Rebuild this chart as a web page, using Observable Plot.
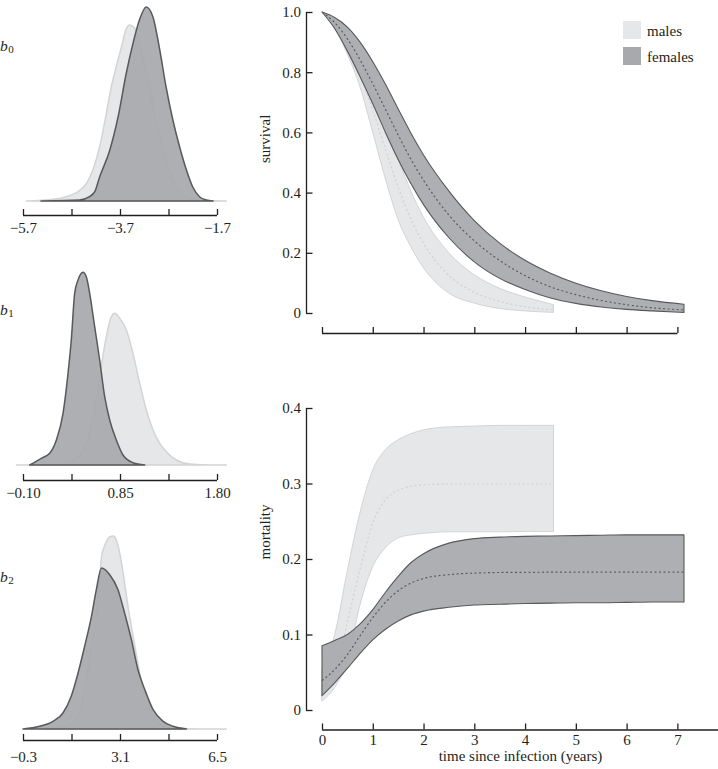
<!DOCTYPE html>
<html>
<head>
<meta charset="utf-8">
<script src="https://cdn.jsdelivr.net/npm/d3@7"></script>
<script src="https://cdn.jsdelivr.net/npm/@observablehq/plot@0.6"></script>
<style>
  html, body { margin: 0; padding: 0; background: #fff; }
  #root { position: relative; width: 718px; height: 769px; overflow: hidden;
          font-family: "Liberation Serif", "DejaVu Serif", serif; color: #231f20; }
  .panel { position: absolute; }
  .panel svg { overflow: visible; display: block; }
  .blabel { position: absolute; left: 0; font-style: italic; font-size: 15.5px; line-height: 16px; }
  .blabel span { font-style: normal; font-size: 11px; position: relative; top: 2px; margin-left: 0.5px; }
  .sw { position: absolute; width: 18px; height: 18px; }
  .lg { position: absolute; font-size: 15px; line-height: 16px; white-space: nowrap; }
</style>
</head>
<body>
<div id="root"></div>
<script>
// ---------------- DATA ----------------
// b0 posterior densities (relative height)
const b0Ticks = [-5.7, -4.7, -3.7, -2.7, -1.7];
const b0TickLabels = ["−5.7", "", "−3.7", "", "−1.7"];
const b0FemalesX = [-5.33, -4.53, -4.33, -4.22, -4.12, -3.91, -3.74, -3.57, -3.43, -3.30, -3.16, -3.02, -2.88, -2.75, -2.61, -2.47, -2.33, -2.20, -2.06, -1.92, -1.78];
const b0FemalesD = [0, 1, 4.3, 9.3, 24, 51, 84, 128, 158, 181, 194, 184, 151, 114, 81, 54, 31, 14, 4.3, 1, 0];
const b0MalesX = [-5.63, -5.08, -4.81, -4.60, -4.39, -4.26, -4.12, -3.98, -3.88, -3.78, -3.67, -3.58, -3.50, -3.40, -3.30, -3.16, -3.05, -2.95, -2.81, -2.68, -2.54, -2.33, -2.06, -1.78, -1.51];
const b0MalesD = [0, 1.7, 4.3, 8.3, 17.7, 31, 54, 88, 114, 134, 154, 171, 176, 173, 158, 131, 104, 78, 51, 31, 14, 4.3, 1, 0.2, 0];

// b1
const b1Ticks = [-0.10, 0.375, 0.85, 1.325, 1.80];
const b1TickLabels = ["−0.10", "", "0.85", "", "1.80"];
const b1FemalesX = [-0.035, 0.080, 0.161, 0.227, 0.292, 0.341, 0.373, 0.406, 0.439, 0.488, 0.520, 0.553, 0.602, 0.651, 0.700, 0.749, 0.814, 0.879, 0.977, 1.092];
const b1FemalesD = [0, 6.7, 11.7, 25, 51.7, 91.7, 125, 171.7, 185, 192.7, 188.3, 171.7, 138.3, 105, 68.3, 45, 25, 10, 2.3, 0];
const b1MalesX = [-0.165, 0.227, 0.324, 0.422, 0.520, 0.586, 0.635, 0.667, 0.716, 0.765, 0.798, 0.847, 0.912, 0.977, 1.043, 1.108, 1.173, 1.239, 1.304, 1.402, 1.532, 1.761, 1.891];
const b1MalesD = [0, 0, 1.7, 6.7, 21.7, 48.3, 75, 98.3, 128.3, 148.3, 151.7, 146.7, 135, 111.7, 81.7, 55, 35, 21.7, 13.3, 5, 1, 0, 0];

// b2
const b2Ticks = [-0.3, 1.4, 3.1, 4.8, 6.5];
const b2TickLabels = ["−0.3", "", "3.1", "", "6.5"];
const b2FemalesX = [-0.30, 0.28, 0.75, 1.10, 1.39, 1.63, 1.86, 2.10, 2.27, 2.45, 2.74, 3.03, 3.26, 3.50, 3.73, 3.97, 4.26, 4.61, 4.96, 5.43];
const b2FemalesD = [0, 2.7, 7.7, 16, 32.7, 56, 82.7, 112.7, 139.3, 161, 154.3, 139.3, 116, 89.3, 59.3, 39.3, 19.3, 7.7, 2.7, 0];
const b2MalesX = [0.40, 0.99, 1.34, 1.57, 1.75, 1.92, 2.10, 2.27, 2.39, 2.45, 2.56, 2.74, 2.86, 2.97, 3.09, 3.21, 3.38, 3.56, 3.79, 4.02, 4.26, 4.61, 5.08, 5.89, 6.83];
const b2MalesD = [0, 1, 4.3, 11, 22.7, 49.3, 82.7, 116, 150, 172, 183, 192, 193, 189, 176, 156, 122.7, 92.7, 56, 29.3, 12.7, 3.3, 0.7, 0, 0];

// survival / mortality vs time since infection (years)
const timeDomain = [0, 7.8];
const timeTicks = [0, 1, 2, 3, 4, 5, 6, 7];
const survTicks = [0, 0.2, 0.4, 0.6, 0.8, 1.0];
const mortTicks = [0, 0.1, 0.2, 0.3, 0.4];

const tFemales = [0, 0.25, 0.5, 0.75, 1, 1.25, 1.5, 1.75, 2, 2.5, 3, 3.5, 4, 4.5, 5, 5.5, 6, 6.5, 7.13];
const survFemalesUp  = [1.0, 0.982, 0.95, 0.90, 0.835, 0.76, 0.678, 0.598, 0.525, 0.405, 0.307, 0.232, 0.175, 0.132, 0.099, 0.074, 0.055, 0.041, 0.029];
const survFemalesMed = [1.0, 0.965, 0.91, 0.84, 0.76, 0.675, 0.59, 0.51, 0.44, 0.325, 0.24, 0.175, 0.125, 0.088, 0.062, 0.043, 0.029, 0.019, 0.012];
const survFemalesLow = [1.0, 0.945, 0.87, 0.785, 0.695, 0.60, 0.51, 0.43, 0.36, 0.25, 0.17, 0.115, 0.078, 0.05, 0.032, 0.02, 0.012, 0.007, 0.002];
const mortFemalesUp  = [0.085, 0.092, 0.100, 0.114, 0.133, 0.156, 0.177, 0.195, 0.207, 0.221, 0.227, 0.229, 0.230, 0.2305, 0.231, 0.2315, 0.232, 0.232, 0.232];
const mortFemalesMed = [0.040, 0.055, 0.075, 0.100, 0.124, 0.144, 0.159, 0.169, 0.175, 0.180, 0.182, 0.1828, 0.183, 0.1832, 0.1833, 0.1834, 0.1834, 0.1834, 0.1834];
const mortFemalesLow = [0.019, 0.036, 0.055, 0.075, 0.093, 0.107, 0.118, 0.126, 0.131, 0.136, 0.139, 0.140, 0.141, 0.1415, 0.142, 0.142, 0.1425, 0.143, 0.143];

const tMales = [0, 0.25, 0.5, 0.75, 1, 1.25, 1.5, 1.75, 2, 2.5, 3, 3.5, 4, 4.56];
const survMalesUp  = [1.0, 0.975, 0.92, 0.84, 0.74, 0.63, 0.51, 0.405, 0.318, 0.20, 0.127, 0.082, 0.053, 0.028];
const survMalesMed = [1.0, 0.96, 0.89, 0.79, 0.67, 0.54, 0.415, 0.31, 0.23, 0.125, 0.07, 0.04, 0.022, 0.012];
const survMalesLow = [1.0, 0.945, 0.86, 0.75, 0.60, 0.445, 0.31, 0.22, 0.15, 0.066, 0.033, 0.015, 0.007, 0.002];
const mortMalesUp  = [0.055, 0.10, 0.185, 0.262, 0.318, 0.345, 0.358, 0.366, 0.371, 0.375, 0.376, 0.377, 0.377, 0.377];
const mortMalesMed = [0.03, 0.055, 0.12, 0.19, 0.25, 0.28, 0.292, 0.297, 0.299, 0.30, 0.30, 0.30, 0.30, 0.30];
const mortMalesLow = [0.012, 0.03, 0.065, 0.14, 0.19, 0.215, 0.228, 0.232, 0.234, 0.236, 0.236, 0.236, 0.2365, 0.2365];

const legendLabels = ["males", "females"];

// ---------------- STYLE ----------------
const LIGHT = "#e6e7e8", LIGHT_STROKE = "#d3d4d6";
const DARK = "#a7a9ac", DARK_STROKE = "#58595b";
const INK = "#231f20";
const FONT = '"Liberation Serif", "DejaVu Serif", serif';
const FS = 15;
const baseStyle = { fontFamily: FONT, fontSize: FS + "px", color: INK, background: "transparent", overflow: "visible" };

const root = document.getElementById("root");
function place(el, left, top) {
  const w = document.createElement("div");
  w.className = "panel";
  w.style.left = left + "px";
  w.style.top = top + "px";
  w.appendChild(el);
  root.appendChild(w);
}

function densityPlot({ticks, tickLabels, femalesX, femalesD, malesX, malesD, marginTop, axisOffset, labelPad}) {
  const females = femalesX.map((x, i) => ({x, d: femalesD[i]}));
  const males = malesX.map((x, i) => ({x, d: malesD[i]}));
  const lo = d3.min(ticks), hi = d3.max(ticks);
  const labelMap = new Map(ticks.map((t, i) => [t, tickLabels[i]]));
  return Plot.plot({
    width: 240, height: marginTop + 200 + 40,
    marginLeft: 23, marginRight: 23, marginTop, marginBottom: 40,
    style: baseStyle,
    x: {domain: [lo, hi]},
    y: {domain: [0, 200], axis: null},
    marks: [
      Plot.areaY(males, {x: "x", y: "d", fill: LIGHT, stroke: LIGHT_STROKE, strokeWidth: 1.5, curve: "monotone-x"}),
      Plot.areaY(females, {x: "x", y: "d", fill: DARK, fillOpacity: 0.93, stroke: DARK_STROKE, strokeWidth: 1.5, curve: "monotone-x"}),
      Plot.ruleY([0], {x1: lo, x2: hi, stroke: INK, strokeWidth: 1.3, dy: axisOffset}),
      Plot.axisX(ticks, {tickSize: 6, dy: axisOffset - 6, tickPadding: labelPad, strokeWidth: 1.3,
        tickFormat: d => labelMap.get(d), label: null, fontSize: FS})
    ]
  });
}

place(densityPlot({ticks: b0Ticks, tickLabels: b0TickLabels, femalesX: b0FemalesX, femalesD: b0FemalesD,
  malesX: b0MalesX, malesD: b0MalesD, marginTop: 1, axisOffset: 14, labelPad: 7}), 0, 0);
place(densityPlot({ticks: b1Ticks, tickLabels: b1TickLabels, femalesX: b1FemalesX, femalesD: b1FemalesD,
  malesX: b1MalesX, malesD: b1MalesD, marginTop: 25, axisOffset: 15, labelPad: 6.5}), 0, 240);
place(densityPlot({ticks: b2Ticks, tickLabels: b2TickLabels, femalesX: b2FemalesX, femalesD: b2FemalesD,
  malesX: b2MalesX, malesD: b2MalesD, marginTop: 29, axisOffset: 11, labelPad: 11}), 0, 500);

// b labels
[["0", 38], ["1", 302], ["2", 569]].forEach(([s, top]) => {
  const d = document.createElement("div");
  d.className = "blabel";
  d.style.top = top + "px";
  d.innerHTML = `b<span>${s}</span>`;
  root.appendChild(d);
});

// ---------------- RIGHT PANELS ----------------
const females = tFemales.map((t, i) => ({t, sUp: survFemalesUp[i], sMed: survFemalesMed[i], sLow: survFemalesLow[i],
  mUp: mortFemalesUp[i], mMed: mortFemalesMed[i], mLow: mortFemalesLow[i]}));
const males = tMales.map((t, i) => ({t, sUp: survMalesUp[i], sMed: survMalesMed[i], sLow: survMalesLow[i],
  mUp: mortMalesUp[i], mMed: mortMalesMed[i], mLow: mortMalesLow[i]}));

function bandMarks(up, med, low) {
  return [
    Plot.areaY(males, {x: "t", y1: low, y2: up, fill: LIGHT, stroke: LIGHT_STROKE, strokeWidth: 1, curve: "monotone-x"}),
    Plot.lineY(males, {x: "t", y: med, stroke: "#cfd0d2", strokeWidth: 1.2, strokeDasharray: "1,3.5", strokeLinecap: "round", curve: "monotone-x"}),
    Plot.areaY(females, {x: "t", y1: low, y2: up, fill: DARK, fillOpacity: 0.93, stroke: DARK_STROKE, strokeWidth: 1.1, curve: "monotone-x"}),
    Plot.lineY(females, {x: "t", y: med, stroke: DARK_STROKE, strokeWidth: 1.2, strokeDasharray: "1,3.5", strokeLinecap: "round", curve: "monotone-x"})
  ];
}

const fmt1 = d => d === 0 ? "0" : d.toFixed(1);

const survPlot = Plot.plot({
  width: 468, height: 350,
  marginLeft: 72, marginRight: 0, marginTop: 12, marginBottom: 37,
  style: baseStyle,
  x: {domain: timeDomain},
  y: {domain: [d3.min(survTicks), d3.max(survTicks)]},
  marks: [
    ...bandMarks("sUp", "sMed", "sLow"),
    Plot.ruleX([timeDomain[0]], {y1: d3.min(survTicks), y2: d3.max(survTicks), dx: -16, stroke: INK, strokeWidth: 1.3}),
    Plot.axisY(survTicks, {tickSize: 6.5, dx: -9.5, tickPadding: 5.5, strokeWidth: 1.3, tickFormat: fmt1, label: null, fontSize: FS}),
    Plot.ruleY([0], {x1: d3.min(timeTicks), x2: d3.max(timeTicks), dy: 20, stroke: INK, strokeWidth: 1.3}),
    Plot.axisX(timeTicks, {tickSize: 6, dy: 14, strokeWidth: 1.3, tickFormat: () => "", label: null}),
    Plot.text(["survival"], {frameAnchor: "left", dx: -57, rotate: -90, fill: INK, fontSize: FS})
  ]
});
place(survPlot, 250, 0);

const mortPlot = Plot.plot({
  width: 468, height: 419,
  marginLeft: 72, marginRight: 0, marginTop: 58, marginBottom: 59,
  style: baseStyle,
  x: {domain: timeDomain},
  y: {domain: [d3.min(mortTicks), d3.max(mortTicks)]},
  marks: [
    ...bandMarks("mUp", "mMed", "mLow"),
    Plot.ruleX([timeDomain[0]], {y1: d3.min(mortTicks), y2: d3.max(mortTicks), dx: -16, stroke: INK, strokeWidth: 1.3}),
    Plot.axisY(mortTicks, {tickSize: 6.5, dx: -9.5, tickPadding: 5.5, strokeWidth: 1.3, tickFormat: fmt1, label: null, fontSize: FS}),
    Plot.ruleY([0], {x1: timeDomain[0], x2: timeDomain[1], dy: 19.5, stroke: INK, strokeWidth: 1.3}),
    Plot.axisX(timeTicks, {tickSize: 6, dy: 13.5, tickPadding: 4.5, strokeWidth: 1.3, tickFormat: d => String(d), label: null, fontSize: FS}),
    Plot.text(["mortality"], {frameAnchor: "left", dx: -57, rotate: -90, fill: INK, fontSize: FS}),
    Plot.text(["time since infection (years)"], {frameAnchor: "bottom", dy: 50, fill: INK, fontSize: FS})
  ]
});
place(mortPlot, 250, 350);

// ---------------- LEGEND ----------------
[[LIGHT, 21, 23.2], [DARK, 47, 49.2]].forEach(([c, top, ttop], i) => {
  const s = document.createElement("div");
  s.className = "sw";
  s.style.left = "623px"; s.style.top = top + "px"; s.style.background = c;
  root.appendChild(s);
  const t = document.createElement("div");
  t.className = "lg";
  t.style.left = "647px"; t.style.top = ttop + "px";
  t.textContent = legendLabels[i];
  root.appendChild(t);
});
</script>
</body>
</html>
